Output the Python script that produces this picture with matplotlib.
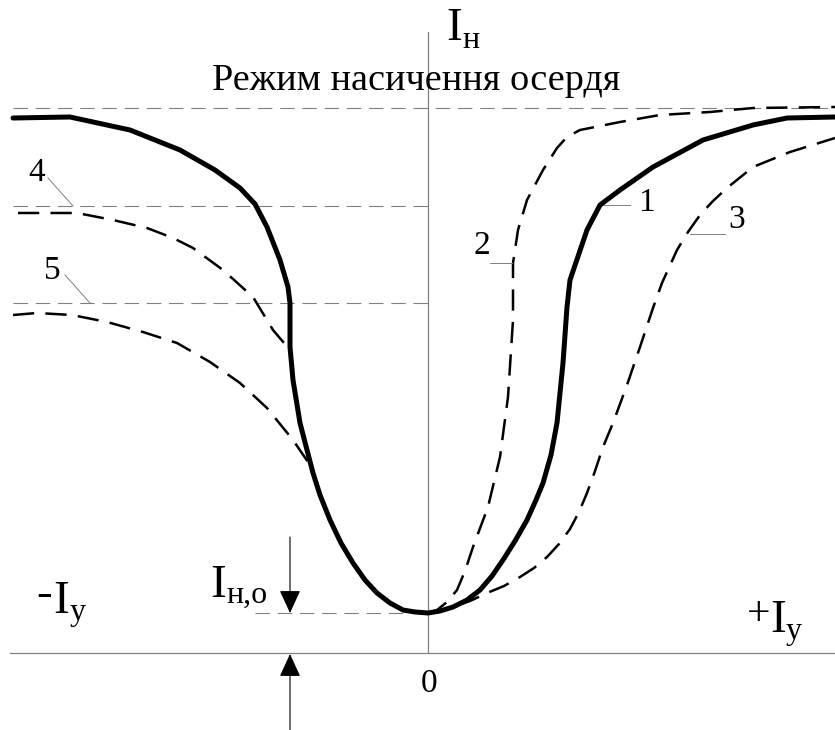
import matplotlib.pyplot as plt

plt.rcParams['font.family'] = ['Liberation Serif', 'DejaVu Serif']

# curve 1 (solid, thick): control current vs load current
h1 = [-415, -358, -298, -248, -213, -188, -173, -161, -148, -140, -138, -138, -135, -128,
      -115, -108, -98, -87, -75, -63, -51, -38, -25, -13, 0, 12, 25, 39, 52, 64, 75, 87,
      99, 108, 115, 123, 129, 135, 139, 142, 159, 172, 192, 225, 275, 325, 359, 407]
i1 = [535, 536, 523, 503, 483, 465, 449, 426, 393, 366, 350, 306, 273, 230,
      180, 158, 133, 110, 90, 73, 60, 50, 43, 41, 40, 42, 46, 53, 63, 77, 93, 112,
      133, 153, 170, 198, 230, 290, 346, 373, 423, 448, 463, 486, 513, 528, 535, 536]

# curve 2 (dashed, steep)
h2 = [0, 9, 19, 29, 37, 45, 60, 72, 80, 85, 85, 90, 99, 115, 129, 139, 152, 192, 232, 282, 325, 407]
i2 = [40, 43, 51, 63, 82, 106, 146, 196, 256, 333, 390, 423, 453, 483, 505, 516, 523, 531, 538, 541, 545, 546]

# curve 3 (dashed, shallow)
h3 = [0, 25, 42, 59, 76, 92, 106, 119, 131, 142, 151, 159, 167, 175, 185, 199, 212, 225, 234,
      249, 260, 272, 285, 299, 325, 362, 407]
i3 = [40, 46, 52, 60, 67, 76, 85, 96, 109, 124, 141, 160, 182, 206, 230, 268, 306, 345, 370,
      403, 421, 438, 452, 465, 486, 501, 515]

# curves 4 and 5 (dashed, left side)
h4 = [-410, -351, -315, -281, -255, -235, -205, -175, -155, -138]
i4 = [440, 440, 433, 425, 415, 405, 383, 356, 323, 303]
h5 = [-415, -391, -356, -321, -285, -251, -218, -188, -161, -135, -120]
i5 = [338, 340, 338, 331, 321, 310, 291, 270, 245, 213, 191]

# reference levels
i_sat = 545
i_4 = 447
i_5 = 350
i_0 = 40

fig = plt.figure(figsize=(8.35, 7.3), dpi=100)
ax = fig.add_axes([0, 0, 1, 1])
ax.set_xlim(-428, 407)
ax.set_ylim(-77, 653)
ax.set_axis_off()

gray = '#808080'
ref_ls = (0, (13, 7))
# axes
ax.plot([-418, 407], [0, 0], color=gray, lw=0.9)
ax.plot([0, 0], [0, 621], color=gray, lw=0.9)
# reference dashed levels
ax.plot([-415, 407], [i_sat, i_sat], color=gray, lw=0.8, ls=ref_ls)
ax.plot([-415, 0], [i_4, i_4], color=gray, lw=0.8, ls=ref_ls)
ax.plot([-415, 0], [i_5, i_5], color=gray, lw=0.8, ls=ref_ls)
ax.plot([-173, 0], [i_0, i_0], color=gray, lw=0.8, ls=ref_ls)

# curves
dash = (0, (8.5, 4.5))
ax.plot(h1, i1, color='black', lw=3.6, solid_joinstyle='round', solid_capstyle='round')
ax.plot(h2, i2, color='black', lw=1.8, ls=dash)
ax.plot(h3, i3, color='black', lw=1.8, ls=dash)
ax.plot(h4, i4, color='black', lw=1.8, ls=dash)
ax.plot(h5, i5, color='black', lw=1.8, ls=dash)

# leaders and curve numbers
lead = dict(color=gray, lw=0.7)
ax.plot([-380, -355], [475, 447], **lead)
ax.plot([-363, -338], [378, 350], **lead)
ax.plot([175, 202], [448, 448], **lead)
ax.plot([62, 84], [390, 390], **lead)
ax.plot([262, 297], [419, 419], **lead)
num = dict(fontsize=24, ha='center', va='center')
ax.text(-391, 480, '4', **num)
ax.text(-376, 382, '5', **num)
ax.text(218, 450, '1', **num)
ax.text(54, 407, '2', **num)
ax.text(309, 433, '3', **num)

# arrows marking I_н,о
arr = dict(arrowstyle='-|>,head_length=0.48,head_width=0.22', mutation_scale=30,
           lw=0.8, color='black', shrinkA=0, shrinkB=0)
ax.annotate('', xy=(-138, i_0), xytext=(-138, 116), arrowprops=arr)
ax.annotate('', xy=(-138, -1), xytext=(-138, -77), arrowprops=arr)

# texts
ax.text(-12, 563, 'Режим насичення осердя', fontsize=27.5, ha='center', va='baseline')
ax.text(18, 613, 'I', fontsize=34, ha='left', va='baseline')
ax.text(34, 605, 'н', fontsize=23, ha='left', va='baseline')
ax.text(-218, 56, 'I', fontsize=34, ha='left', va='baseline')
ax.text(-202, 50, 'н,о', fontsize=23, ha='left', va='baseline')
ax.text(-376, 47, '-', fontsize=34, ha='right', va='baseline')
ax.text(-375, 40, 'I', fontsize=34, ha='left', va='baseline')
ax.text(-358, 33, 'у', fontsize=23, ha='left', va='baseline')
ax.text(342, 28, '+', fontsize=30, ha='right', va='baseline')
ax.text(342, 21, 'I', fontsize=34, ha='left', va='baseline')
ax.text(358, 14, 'у', fontsize=23, ha='left', va='baseline')
ax.text(1, -39, '0', fontsize=24, ha='center', va='baseline')

fig.savefig('out.png', dpi=100)
